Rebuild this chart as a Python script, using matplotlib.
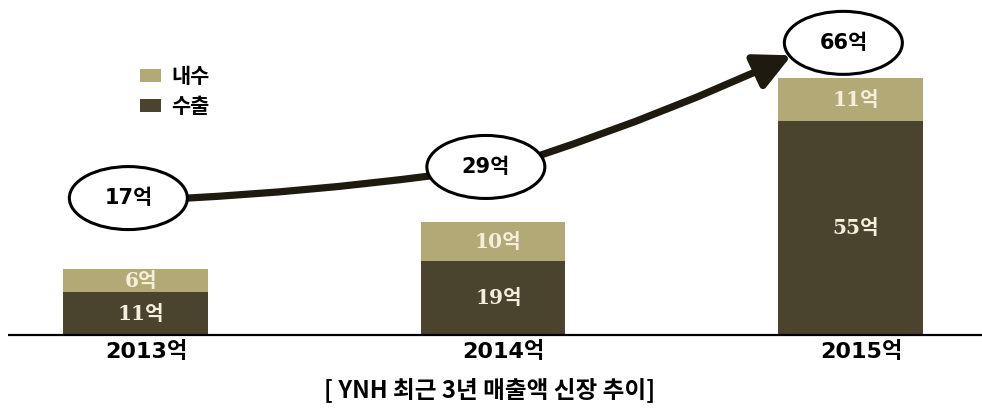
import matplotlib
matplotlib.use("Agg")
import matplotlib.pyplot as plt
from matplotlib.patches import Ellipse, FancyArrowPatch, Patch, PathPatch
from matplotlib.path import Path
import numpy as np

# ---- data ----
years = ["2013억", "2014억", "2015억"]
domestic = [6, 10, 11]     # 내수
export = [11, 19, 55]      # 수출
totals = [17, 29, 66]
series_names = ["내수", "수출"]
caption = "[ YNH 최근 3년 매출액 신장 추이]"
unit = "억"

# ---- style / layout ----
LIGHT = "#b3a977"
DARK = "#4a432d"
LABEL = "#f3efdc"
INK = "#1e1a10"
SANS = ["DejaVu Sans", "Noto Sans CJK KR"]
SERIF = ["DejaVu Serif", "Noto Sans CJK KR"]
KR = ["Noto Sans CJK KR", "DejaVu Sans"]

W_PX, H_PX = 982, 409
PX_X, PX_Y = 357.5, 3.89          # pixels per category / per unit
X0_PX, BASE_PX = 135.5, 335       # first bar centre, baseline
circle_lift = [18.2, 14.2, 9.1]   # circle centre above the bar total
circle_dx = -0.02
ell_w, ell_h = 118 / PX_X, 63 / PX_Y

fig = plt.figure(figsize=(W_PX / 100, H_PX / 100), dpi=100)
ax = fig.add_axes([0, 0, 1, 1])
ax.set_xlim(-X0_PX / PX_X, (W_PX - X0_PX) / PX_X)
ax.set_ylim(-(H_PX - BASE_PX) / PX_Y, BASE_PX / PX_Y)
ax.axis("off")

x = np.arange(len(years))
bw = 0.405
ax.bar(x, export, bw, color=DARK, zorder=2)
ax.bar(x, domestic, bw, bottom=export, color=LIGHT, zorder=2)

# baseline
ax.plot([(8 - X0_PX) / PX_X, ax.get_xlim()[1]], [0, 0], color="black", lw=1.6, zorder=3,
        solid_capstyle="butt")

# bar value labels
for i in range(len(x)):
    ax.text(x[i] + 0.015, export[i] / 2, f"{export[i]}{unit}", ha="center", va="center",
            color=LABEL, fontsize=14.5, fontweight="bold", family=SERIF, zorder=4)
    ax.text(x[i] + 0.015, export[i] + domestic[i] / 2, f"{domestic[i]}{unit}", ha="center",
            va="center", color=LABEL, fontsize=14.5, fontweight="bold", family=SERIF, zorder=4)

# year labels
for i in range(len(x)):
    ax.text(x[i] + 0.03, -17 / PX_Y, years[i], ha="center", va="center", color="black",
            fontsize=16, fontweight="bold", family=SANS)

# caption
ax.text(0.99, -55 / PX_Y, caption, ha="center", va="center", color="black",
        fontsize=17, fontweight="bold", family=KR)

# circles with totals
cx = [x[i] + circle_dx for i in range(len(x))]
cy = [totals[i] + circle_lift[i] for i in range(len(x))]
for i in range(len(x)):
    ax.add_patch(Ellipse((cx[i], cy[i]), ell_w, ell_h, facecolor="white",
                         edgecolor="black", lw=2.2, zorder=6))
    ax.text(cx[i], cy[i], f"{totals[i]}{unit}", ha="center", va="center", color="black",
            fontsize=15, fontweight="bold", family=SANS, zorder=7)

# trend line: circle 1 -> circle 2
p0 = (cx[0] + ell_w / 2, cy[0])
p1 = (cx[1] - ell_w / 2 + 0.01, cy[1] - 2.3)
c1 = ((p0[0] + p1[0]) / 2, (p0[1] + p1[1]) / 2 - 1.2)
seg1 = Path([p0, c1, p1], [Path.MOVETO, Path.CURVE3, Path.CURVE3])
ax.add_patch(PathPatch(seg1, fill=False, edgecolor=INK, lw=5.2, zorder=5))

# arrow: circle 2 -> circle 3
q0 = (cx[1] + ell_w / 2 - 0.01, cy[1] + 3.1)
q1 = (cx[2] - ell_w / 2 + 0.02, cy[2] - 3.2)
c2 = ((q0[0] + q1[0]) / 2 + 0.01, (q0[1] + q1[1]) / 2 - 1.8)
seg2 = Path([q0, c2, q1], [Path.MOVETO, Path.CURVE3, Path.CURVE3])
ax.add_patch(FancyArrowPatch(path=seg2, arrowstyle="-|>,head_length=22,head_width=11",
                             mutation_scale=1, color=INK, lw=5.2, zorder=5))

# legend
handles = [Patch(facecolor=LIGHT, edgecolor="none"), Patch(facecolor=DARK, edgecolor="none")]
fig.legend(handles, series_names, loc="upper left",
           bbox_to_anchor=(121 / W_PX, 1 - 47 / H_PX), frameon=False,
           handlelength=1.0, handleheight=0.55, handletextpad=0.5, labelspacing=0.45,
           prop={"family": KR, "weight": "bold", "size": 15})

fig.savefig("out.png", dpi=100)
